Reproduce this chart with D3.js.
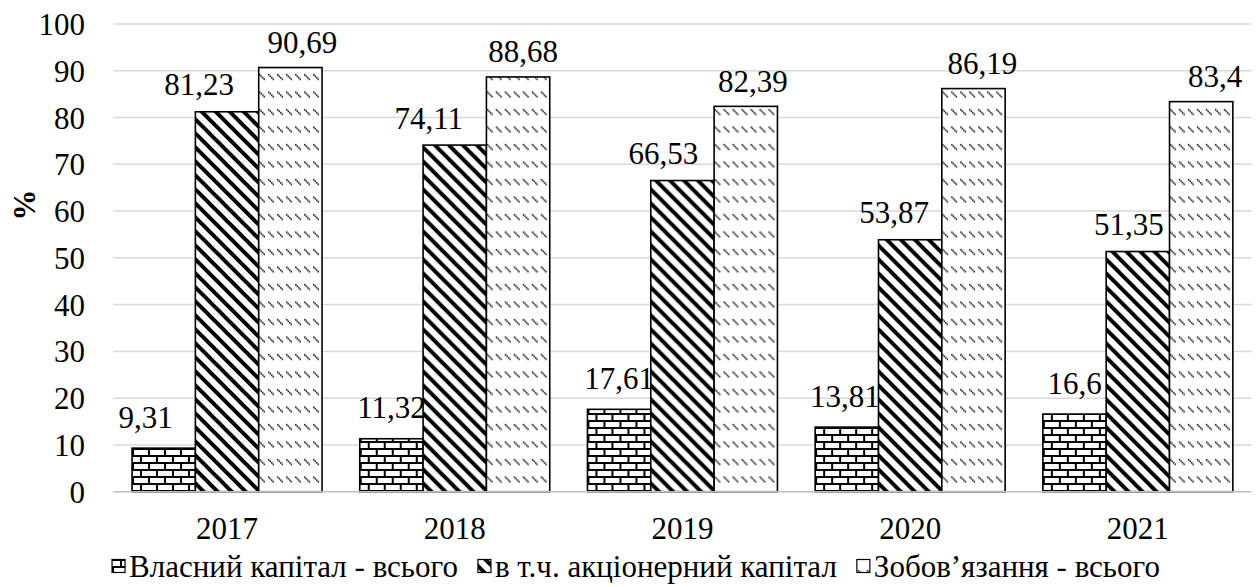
<!DOCTYPE html>
<html>
<head>
<meta charset="utf-8">
<script src="https://cdn.jsdelivr.net/npm/d3@7"></script>
<style>
  html, body { margin: 0; padding: 0; background: #fff; }
  svg text { font-family: "Liberation Serif", "Times New Roman", serif; }
</style>
</head>
<body>
<svg id="chart" width="1258" height="587"></svg>
<script>
// Capital structure, % of total
const years = ["2017", "2018", "2019", "2020", "2021"];
const seriesNames = ["Власний капітал - всього", "в т.ч. акціонерний капітал", "Зобов’язання - всього"];
const equityTotal = [9.31, 11.32, 17.61, 13.81, 16.6];
const shareCapital = [81.23, 74.11, 66.53, 53.87, 51.35];
const liabilitiesTotal = [90.69, 88.68, 82.39, 86.19, 83.4];
const yTicks = [0, 10, 20, 30, 40, 50, 60, 70, 80, 90, 100];
const yTitle = "%";

const seriesValues = [equityTotal, shareCapital, liabilitiesTotal];
const patternIds = ["pat-brick", "pat-wdiag", "pat-dashdiag"];
// horizontal nudges of the value labels, per year and series
const labelDx = [[-18, -28, 12], [0, -26, 5], [0, -19, 7], [-2, -16, 9], [0, -9, 14]];
// gap between bar top and label centre, per series
const labelGap = [31, 27, 25];

const FONT = 31;
const svg = d3.select("#chart");
const plot = { left: 113.2, right: 1251.7, top: 24, bottom: 491.7 };

const defs = svg.append("defs");

// brick fill
const brick = defs.append("pattern").attr("id", "pat-brick")
  .attr("patternUnits", "userSpaceOnUse").attr("width", 16).attr("height", 14);
brick.append("rect").attr("width", 16).attr("height", 14).attr("fill", "#fff");
brick.append("path")
  .attr("d", "M0,1 H16 M0,8 H16 M1,1 V8 M9,8 V15")
  .attr("stroke", "#000").attr("stroke-width", 2).attr("fill", "none");

// wide downward diagonal
const wd = defs.append("pattern").attr("id", "pat-wdiag")
  .attr("patternUnits", "userSpaceOnUse").attr("width", 14).attr("height", 14);
wd.append("rect").attr("width", 14).attr("height", 14).attr("fill", "#fff");
wd.append("path")
  .attr("d", "M-4,-4 L18,18 M-4,10 L4,18 M10,-4 L18,4")
  .attr("stroke", "#000").attr("stroke-width", 4).attr("fill", "none");

// dashed downward diagonal: rows of short "\" dashes
const dd = defs.append("pattern").attr("id", "pat-dashdiag")
  .attr("patternUnits", "userSpaceOnUse").attr("width", 9).attr("height", 17.5);
dd.append("rect").attr("width", 9).attr("height", 17.5).attr("fill", "#fff");
[[1, 4], [2.5, 5.5], [4, 7], [5.5, 8.5]].forEach(([px, py]) => {
  dd.append("rect").attr("x", px).attr("y", py).attr("width", 1.5).attr("height", 1.5).attr("fill", "#000");
});

const x0 = d3.scaleBand().domain(years).range([plot.left, plot.right])
  .paddingInner(0.1656).paddingOuter(0.0828);
const x1 = d3.scaleBand().domain(d3.range(seriesValues.length)).range([0, x0.bandwidth()]);
const y = d3.scaleLinear().domain([0, 100]).range([plot.bottom, plot.top]);

// gridlines
svg.append("g").selectAll("line").data(yTicks.filter(d => d > 0)).join("line")
  .attr("x1", plot.left).attr("x2", plot.right)
  .attr("y1", d => y(d)).attr("y2", d => y(d))
  .attr("stroke", "#d9d9d9").attr("stroke-width", 1.5);

// y axis labels
const yAxis = d3.axisLeft(y).tickValues(yTicks).tickSize(0).tickPadding(0).tickFormat(d3.format("d"));
svg.append("g").attr("transform", "translate(85,0)").call(yAxis)
  .call(g => g.select(".domain").remove())
  .call(g => g.selectAll("text").attr("font-size", FONT).attr("fill", "#000")
    .attr("dy", "0").attr("dominant-baseline", "central"));

svg.append("text").attr("transform", "translate(24,205) rotate(-90)")
  .attr("text-anchor", "middle").attr("dominant-baseline", "central")
  .attr("font-size", FONT).attr("font-weight", "bold").text(yTitle);

// bars
const groups = svg.append("g").selectAll("g").data(years).join("g")
  .attr("transform", d => `translate(${x0(d)},0)`);

const cells = (yr, i) => seriesValues.map((s, k) => ({ i, k, v: s[i] }));

groups.selectAll("rect").data(cells).join("rect")
  .attr("x", d => x1(d.k)).attr("width", x1.bandwidth())
  .attr("y", d => y(d.v)).attr("height", d => y(0) - y(d.v))
  .attr("fill", d => `url(#${patternIds[d.k]})`)
  .attr("stroke", "#000").attr("stroke-width", 1.6);

groups.selectAll("text.val").data(cells).join("text")
  .attr("class", "val")
  .attr("x", d => x1(d.k) + x1.bandwidth() / 2 + labelDx[d.i][d.k])
  .attr("y", d => y(d.v) - labelGap[d.k])
  .attr("text-anchor", "middle").attr("dominant-baseline", "central")
  .attr("font-size", FONT)
  .text(d => String(d.v).replace(".", ","));

// x axis baseline
svg.append("line").attr("x1", plot.left).attr("x2", plot.right)
  .attr("y1", y(0)).attr("y2", y(0)).attr("stroke", "#bfbfbf").attr("stroke-width", 1.5);

const xAxis = d3.axisBottom(x0).tickSize(0).tickPadding(0);
svg.append("g").attr("transform", `translate(0,${y(0) + 37})`).call(xAxis)
  .call(g => g.select(".domain").remove())
  .call(g => g.selectAll("text").attr("font-size", FONT).attr("fill", "#000")
    .attr("dy", "0").attr("dominant-baseline", "central"));

// legend, centred under the chart
const legend = svg.append("g");
const items = seriesNames.map((name, k) => {
  const g = legend.append("g");
  g.append("rect").attr("x", 0).attr("y", -6.5).attr("width", 13).attr("height", 13)
    .attr("fill", `url(#${patternIds[k]})`).attr("stroke", "#000").attr("stroke-width", 1.2);
  const t = g.append("text").attr("x", 17).attr("y", 0)
    .attr("dominant-baseline", "central").attr("font-size", FONT).text(name);
  return { g, w: 17 + t.node().getComputedTextLength() };
});
const gap = 20;
const total = d3.sum(items, d => d.w) + gap * (items.length - 1);
let cx = 636 - total / 2;
items.forEach(it => { it.g.attr("transform", `translate(${cx},566)`); cx += it.w + gap; });
</script>
</body>
</html>
